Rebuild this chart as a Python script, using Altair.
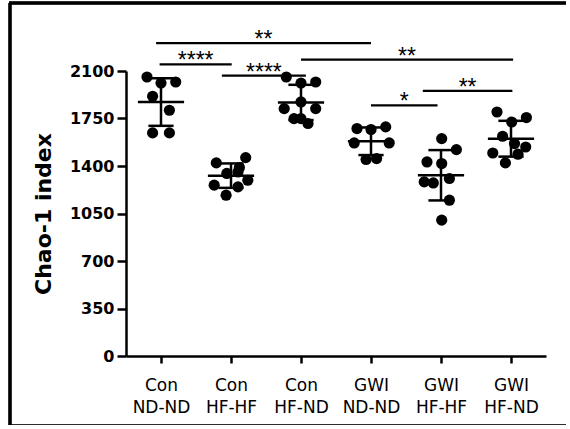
import altair as alt
import pandas as pd

# ---- data ----
groups = ["Con ND-ND", "Con HF-HF", "Con HF-ND", "GWI ND-ND", "GWI HF-HF", "GWI HF-ND"]

con_nd_nd = [2056, 2011, 2019, 1914, 1811, 1644, 1644]
con_hf_hf = [1423, 1462, 1389, 1345, 1295, 1259, 1246, 1185, 1356]
con_hf_nd = [2056, 2011, 2019, 1872, 1823, 1823, 1749, 1749, 1713]
gwi_nd_nd = [1676, 1669, 1688, 1570, 1570, 1448, 1455]
gwi_hf_hf = [1602, 1521, 1430, 1418, 1308, 1283, 1275, 1148, 1001]
gwi_hf_nd = [1798, 1724, 1757, 1619, 1496, 1540, 1487, 1423, 1565]

# horizontal scatter spread of dots within a category (category units)
spread_1 = [-0.20, 0.00, 0.21, -0.12, 0.12, -0.12, 0.12]
spread_2 = [-0.21, 0.21, 0.12, -0.06, 0.24, -0.24, 0.10, -0.07, 0.10]
spread_3 = [-0.21, 0.00, 0.21, 0.00, -0.24, 0.21, -0.10, 0.00, 0.10]
spread_4 = [-0.20, 0.00, 0.21, -0.24, 0.26, -0.07, 0.08]
spread_5 = [0.01, 0.22, -0.20, 0.01, 0.12, -0.24, -0.11, 0.12, 0.01]
spread_6 = [-0.20, 0.01, 0.22, -0.12, -0.26, 0.21, 0.10, -0.08, 0.05]

y_ticks = [0, 350, 700, 1050, 1400, 1750, 2100]

# significance comparisons: from group, to group, bracket height, label
sig_from = [-0.07, -0.02, 0.87, 2.00, 3.00, 3.74]
sig_to = [3.00, 1.01, 2.07, 5.03, 3.95, 5.02]
sig_level = [2306, 2149, 2066, 2184, 1847, 1953]
sig_label = ["**", "****", "****", "**", "*", "**"]

# ---- tables ----
all_vals = [con_nd_nd, con_hf_hf, con_hf_nd, gwi_nd_nd, gwi_hf_hf, gwi_hf_nd]
all_spread = [spread_1, spread_2, spread_3, spread_4, spread_5, spread_6]
rows = []
for i, (vals, sp) in enumerate(zip(all_vals, all_spread)):
    for v, s in zip(vals, sp):
        rows.append({"idx": i, "group": groups[i], "value": v, "xpos": i + s})
df = pd.DataFrame(rows)

sig = pd.DataFrame({"x1": sig_from, "x2": sig_to, "level": sig_level, "label": sig_label})
sig["xm"] = (sig["x1"] + sig["x2"]) / 2

FONT = "DejaVu Sans"
label_array = "[" + ",".join("'" + g + "'" for g in groups) + "]"

x_scale = alt.Scale(domain=[-0.5, 5.5], nice=False, zero=False)
y_scale = alt.Scale(domain=[0, 2100], nice=False)

x_axis = alt.Axis(
    values=list(range(len(groups))),
    labelExpr=f"split({label_array}[datum.value], ' ')",
    title=None, grid=False, domainColor="black", domainWidth=2.5,
    tickColor="black", tickWidth=2.5, tickSize=7, labelPadding=14,
    labelFont=FONT, labelFontSize=17, labelColor="black", labelLineHeight=22,
    labelBaseline="top",
)
y_axis = alt.Axis(
    values=y_ticks, format="d", title="Chao-1 index", grid=False,
    domainColor="black", domainWidth=2.5, tickColor="black", tickWidth=2.5,
    tickSize=9, labelPadding=3, labelFont=FONT, labelFontSize=16,
    labelFontWeight="bold", labelColor="black",
    titleFont=FONT, titleFontSize=22, titleFontWeight="bold", titleColor="black",
    titlePadding=14,
)

points = alt.Chart(df).mark_circle(size=125, color="black", opacity=1).encode(
    x=alt.X("xpos:Q", scale=x_scale, axis=x_axis),
    y=alt.Y("value:Q", scale=y_scale, axis=y_axis),
)

stats = alt.Chart(df).transform_aggregate(
    mean="mean(value)", sd="stdev(value)", groupby=["idx"]
).transform_calculate(
    lo="datum.mean - datum.sd", hi="datum.mean + datum.sd",
    ml="datum.idx - 0.33", mr="datum.idx + 0.33",
    cl="datum.idx - 0.18", cr="datum.idx + 0.18",
)

mean_line = stats.mark_rule(color="black", strokeWidth=2.5).encode(
    x=alt.X("ml:Q", scale=x_scale), x2="mr:Q", y=alt.Y("mean:Q", scale=y_scale)
)
sd_line = stats.mark_rule(color="black", strokeWidth=2.5).encode(
    x=alt.X("idx:Q", scale=x_scale), y=alt.Y("lo:Q", scale=y_scale), y2="hi:Q"
)
cap_hi = stats.mark_rule(color="black", strokeWidth=2.5).encode(
    x=alt.X("cl:Q", scale=x_scale), x2="cr:Q", y=alt.Y("hi:Q", scale=y_scale)
)
cap_lo = stats.mark_rule(color="black", strokeWidth=2.5).encode(
    x=alt.X("cl:Q", scale=x_scale), x2="cr:Q", y=alt.Y("lo:Q", scale=y_scale)
)

sig_lines = alt.Chart(sig).mark_rule(color="black", strokeWidth=2.2).encode(
    x=alt.X("x1:Q", scale=x_scale), x2="x2:Q", y=alt.Y("level:Q", scale=y_scale)
)
sig_text = alt.Chart(sig).mark_text(
    font="Liberation Sans", fontSize=23, color="black", baseline="alphabetic", dy=4
).encode(
    x=alt.X("xm:Q", scale=x_scale), y=alt.Y("level:Q", scale=y_scale), text="label:N"
)

# outer picture frame (left, top, bottom edges)
frame_left = alt.Chart(sig).mark_rule(color="black", strokeWidth=2.5).encode(
    x=alt.value(-116), y=alt.value(-68), y2=alt.value(355)
)
frame_top = alt.Chart(sig).mark_rule(color="black", strokeWidth=2.5).encode(
    x=alt.value(-117), x2=alt.value(460), y=alt.value(-68)
)
frame_bottom = alt.Chart(sig).mark_rule(color="black", strokeWidth=2.5).encode(
    x=alt.value(-117), x2=alt.value(460), y=alt.value(355)
)

chart = alt.layer(
    frame_left, frame_top, frame_bottom,
    points, sd_line, mean_line, cap_hi, cap_lo, sig_lines, sig_text
).properties(
    width=420, height=285, background="white",
    autosize=alt.AutoSizeParams(type="none"),
    padding={"left": 126, "top": 71, "right": 20, "bottom": 69},
).configure_view(strokeWidth=0, stroke="transparent")

chart.save("out.html", embed_options={"renderer": "svg", "actions": False})
